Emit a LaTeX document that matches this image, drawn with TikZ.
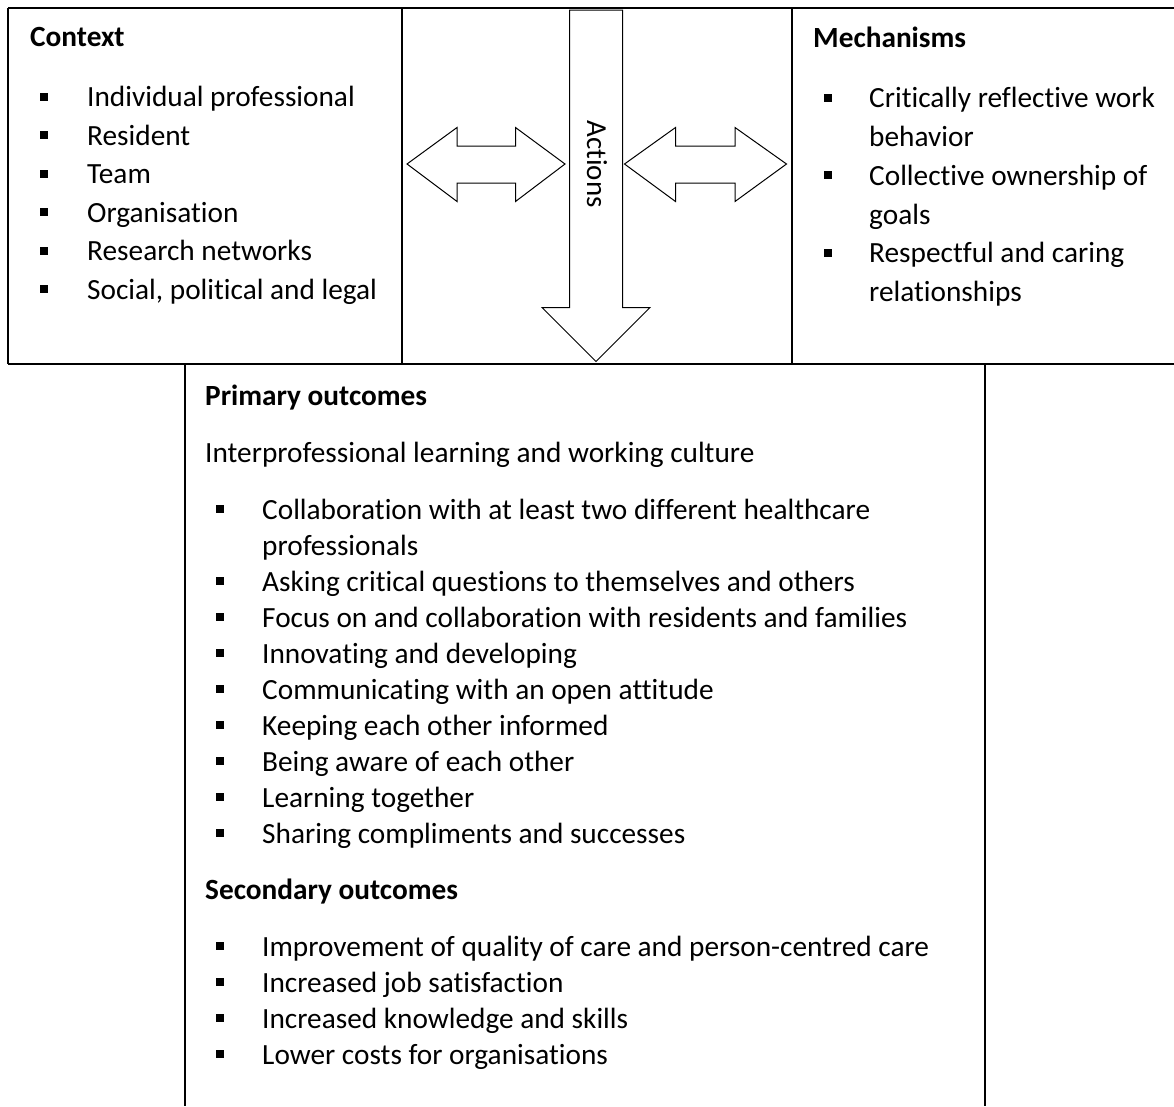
\documentclass[tikz,border=0pt]{standalone}
\usepackage{fontspec}
\setmainfont[Ligatures=NoCommon]{Carlito}
\tikzset{
  txt/.style={anchor=base west, inner sep=0pt, font=\fontsize{29.3}{34}\selectfont},
  headtxt/.style={txt, font=\fontsize{29.3}{34}\selectfont\bfseries},
  bul/.style={fill, inner sep=0pt, minimum size=8pt},
  frame/.style={line width=1.3pt},
  hollow/.style={line width=1pt, line join=miter}
}
\begin{document}
\begin{tikzpicture}[x=1pt,y=-1pt]
  \useasboundingbox (0,0) rectangle (1174,1106);
  % frames
  \draw[frame] (8,8) -- (1174,8);
  \draw[frame] (8,364) -- (1174,364);
  \draw[frame] (8,8) -- (8,364);
  \draw[frame] (402,8) -- (402,364);
  \draw[frame] (792,8) -- (792,364);
  \draw[frame] (185,364) -- (185,1106);
  \draw[frame] (985,364) -- (985,1106);
  % arrows
  \draw[hollow] (569.5,10) -- (622.5,10) -- (622.5,307.5) -- (650,307.5) -- (596,361.5)
     -- (542,307.5) -- (569.5,307.5) -- cycle;
  \draw[hollow] (407,164) -- (457,127.5) -- (457,146) -- (515.5,146) -- (515.5,127.5) -- (565,164)
     -- (515.5,201.5) -- (515.5,183) -- (457,183) -- (457,201.5) -- cycle;
  \draw[hollow] (624.5,164) -- (675.5,127.5) -- (675.5,146) -- (735,146) -- (735,127.5) -- (786.5,164)
     -- (735,201.5) -- (735,183) -- (675.5,183) -- (675.5,201.5) -- cycle;
  \node[rotate=-90, inner sep=0pt, font=\fontsize{29}{32}\selectfont] (actions) at (597,164) {Actions};
  % context
  \node[headtxt] (context) at (30,46) {Context};
  \node[bul] (cb1) at (44,96.5) {};
  \node[txt] (c1) at (87,106.5) {Individual professional};
  \node[bul] (cb2) at (44,135) {};
  \node[txt] (c2) at (87,145) {Resident};
  \node[bul] (cb3) at (44,173.5) {};
  \node[txt] (c3) at (87,183.5) {Team};
  \node[bul] (cb4) at (44,212) {};
  \node[txt] (c4) at (87,222) {Organisation};
  \node[bul] (cb5) at (44,250.5) {};
  \node[txt] (c5) at (87,260.5) {Research networks};
  \node[bul] (cb6) at (44,289) {};
  \node[txt] (c6) at (87,299) {Social, political and legal};
  % mechanisms
  \node[headtxt] (mech) at (813,47) {Mechanisms};
  \node[bul] (mb1) at (828,97.5) {};
  \node[txt] (m1) at (869,107.5) {Critically reflective work};
  \node[txt] (m1b) at (869,146.5) {behavior};
  \node[bul] (mb2) at (828,175) {};
  \node[txt] (m2) at (869,185) {Collective ownership of};
  \node[txt] (m2b) at (869,224) {goals};
  \node[bul] (mb3) at (828,252.5) {};
  \node[txt] (m3) at (869,262.5) {Respectful and caring};
  \node[txt] (m3b) at (869,301.5) {relationships};
  % primary outcomes
  \node[headtxt] (prim) at (205,405) {Primary outcomes};
  \node[txt] (culture) at (205,462) {Interprofessional learning and working culture};
  \node[bul] (pb1) at (220,509) {};
  \node[txt] (p1) at (262,519) {Collaboration with at least two different healthcare};
  \node[txt] (p1b) at (262,555) {professionals};
  \node[bul] (pb2) at (220,581) {};
  \node[txt] (p2) at (262,591) {Asking critical questions to themselves and others};
  \node[bul] (pb3) at (220,617) {};
  \node[txt] (p3) at (262,627) {Focus on and collaboration with residents and families};
  \node[bul] (pb4) at (220,653) {};
  \node[txt] (p4) at (262,663) {Innovating and developing};
  \node[bul] (pb5) at (220,689) {};
  \node[txt] (p5) at (262,699) {Communicating with an open attitude};
  \node[bul] (pb6) at (220,725) {};
  \node[txt] (p6) at (262,735) {Keeping each other informed};
  \node[bul] (pb7) at (220,761) {};
  \node[txt] (p7) at (262,771) {Being aware of each other};
  \node[bul] (pb8) at (220,797) {};
  \node[txt] (p8) at (262,807) {Learning together};
  \node[bul] (pb9) at (220,833) {};
  \node[txt] (p9) at (262,843) {Sharing compliments and successes};
  % secondary outcomes
  \node[headtxt] (sec) at (205,899) {Secondary outcomes};
  \node[bul] (sb1) at (220,946) {};
  \node[txt] (s1) at (262,956) {Improvement of quality of care and person-centred care};
  \node[bul] (sb2) at (220,982) {};
  \node[txt] (s2) at (262,992) {Increased job satisfaction};
  \node[bul] (sb3) at (220,1018) {};
  \node[txt] (s3) at (262,1028) {Increased knowledge and skills};
  \node[bul] (sb4) at (220,1054) {};
  \node[txt] (s4) at (262,1064) {Lower costs for organisations};
\end{tikzpicture}
\end{document}
